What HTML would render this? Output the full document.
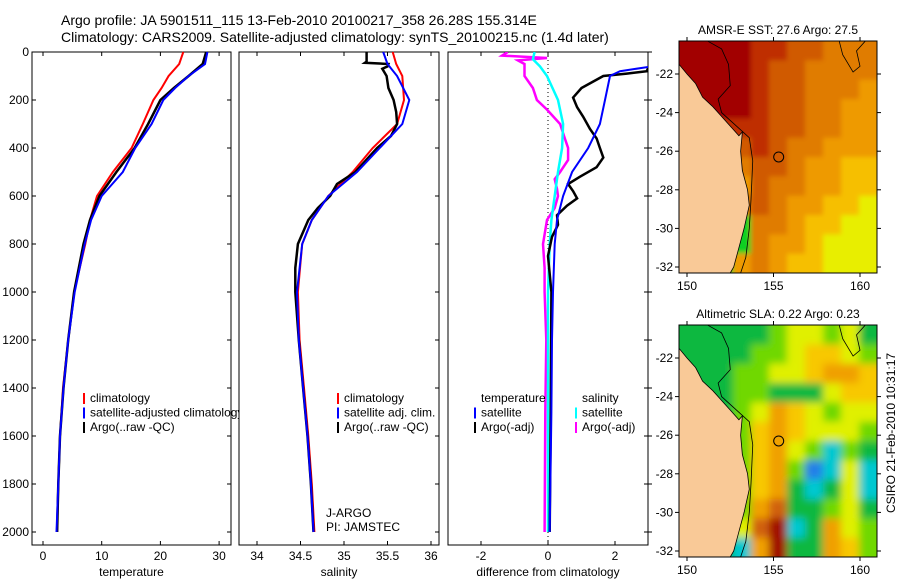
<!DOCTYPE html>
<html><head><meta charset="utf-8"><style>
body{margin:0;background:#fff;}
svg{display:block;font-family:"Liberation Sans",sans-serif;}
</style></head><body>
<svg id="fig" width="900" height="580" viewBox="0 0 900 580">
<defs>
<filter id="blurA" x="-10%" y="-10%" width="120%" height="120%"><feGaussianBlur stdDeviation="2.5"/></filter>
<filter id="blurB" x="-10%" y="-10%" width="120%" height="120%"><feGaussianBlur stdDeviation="4"/></filter>
<clipPath id="cpm1"><rect x="679" y="41" width="198" height="232"/></clipPath>
<clipPath id="cpm2"><rect x="679" y="325" width="198" height="232"/></clipPath>
<clipPath id="cp3"><rect x="448" y="52" width="200" height="493"/></clipPath>
</defs>
<text x="61" y="25" font-size="14">Argo profile: JA 5901511_115 13-Feb-2010 20100217_358 26.28S 155.314E</text>
<text x="61" y="42" font-size="14">Climatology: CARS2009. Satellite-adjusted climatology: synTS_20100215.nc (1.4d later)</text>
<g id="g1"></g>
<g id="g2"></g>
<g id="g3"></g>
<g id="m1"></g>
<g id="m2"></g>
<text x="32" y="0" font-size="12" transform="translate(895,465) rotate(-90)" text-anchor="middle">CSIRO 21-Feb-2010 10:31:17</text>
</svg>
<script>
// ---- data ----
const tDepth=[0,50,100,150,200,300,400,500,600,700,800,1000,1200,1400,1600,1800,2000];
const tClim=[23.9,23.2,21.4,20.2,18.8,17.0,15.1,11.9,9.2,8.0,7.2,5.3,4.3,3.4,2.9,2.6,2.4];
const tSat=[28.0,27.6,24.8,22.5,20.5,18.5,15.7,13.6,10.0,8.2,7.1,5.4,4.3,3.5,2.9,2.6,2.3];
const tArgo=[27.8,27.2,24.8,22.3,20.0,17.9,15.6,12.5,9.6,8.0,6.9,5.3,4.3,3.5,2.9,2.6,2.4];
const sDepth=[0,50,100,200,300,400,500,600,700,800,1000,1200,1400,1600,1800,2000];
const sClim=[35.56,35.6,35.67,35.69,35.61,35.33,35.10,34.82,34.63,34.52,34.47,34.49,34.54,34.59,34.63,34.66];
const sSat=[35.45,35.5,35.61,35.75,35.67,35.41,35.15,34.82,34.63,34.52,34.46,34.48,34.53,34.58,34.62,34.65];
const sArgoDepth=[0,40,45,50,60,70,100,150,200,250,300,350,400,500,550,600,650,700,800,900,1000,1200,1400,1600,1800,2000];
const sArgo=[35.26,35.26,35.24,35.51,35.5,35.44,35.49,35.51,35.57,35.6,35.61,35.54,35.38,35.13,34.92,34.84,34.7,34.59,34.47,34.44,34.44,34.48,34.53,34.58,34.62,34.65];
const dTSatDepth=[62,80,100,200,300,400,500,600,700,800,1000,1200,1500,2000];
const dTSat=[3.0,2.15,1.85,1.7,1.55,1.2,0.72,0.45,0.27,0.2,0.15,0.12,0.1,0.05];
const dTArgoDepth=[62,80,90,100,150,190,230,270,320,360,400,440,480,520,550,580,610,640,680,720,770,850,1000,1500,2000];
const dTArgo=[3.0,2.95,2.35,1.65,1.0,0.75,0.87,1.05,1.25,1.45,1.55,1.65,1.45,0.95,0.6,0.75,0.87,0.57,0.27,0.3,0.12,0.0,0.1,0.08,0.05];
const dSArgoDepth=[0,15,25,35,50,100,150,200,240,300,360,400,450,500,530,570,600,650,700,800,900,1000,1200,1500,2000];
const dSArgo=[-1.2,-1.37,-0.03,-0.9,-0.7,-0.7,-0.45,-0.33,-0.03,0.36,0.5,0.6,0.6,0.36,0.2,0.27,0.3,0.2,-0.03,-0.15,-0.1,-0.1,-0.05,-0.08,-0.1];
const dSSatDepth=[0,30,60,100,200,300,400,500,600,700,800,1000,1500,2000];
const dSSat=[-0.4,-0.45,-0.24,-0.03,0.3,0.45,0.42,0.3,0.2,0.1,0.05,0.0,0.0,0.0];
const depthTicks=[0,200,400,600,800,1000,1200,1400,1600,1800,2000];
const tTicks=[0,10,20,30];
const sTicks=[34,34.5,35,35.5,36];
const dTicks=[-2,0,2];
const sstGrid=[
[0,0,0,0,1,1,2,2,3,3,3],[0,0,0,0,1,2,2,3,3,3,3],[0,0,0,0,1,2,2,3,3,3,4],[0,0,0,0,1,2,2,3,3,4,4],
[1,1,1,1,1,2,2,3,3,4,4],[2,2,2,2,1,2,3,3,4,4,4],[3,3,3,3,2,2,3,4,4,5,5],[4,4,4,4,2,3,3,4,4,5,5],
[3,3,3,3,2,3,4,4,5,5,6],[7,7,7,7,3,3,4,5,5,6,6],[7,7,7,7,3,4,4,5,6,6,6],[7,7,7,4,3,4,5,5,6,6,6]];
const slaGrid=[
[2,2,2,2,2,3,4,4,3,4,2],[2,2,2,2,3,3,4,5,5,4,3],[2,2,2,3,3,4,4,5,6,6,5],[2,2,2,3,3,2,2,2,4,5,5],
[2,2,2,3,4,6,5,4,3,4,4],[2,2,2,3,5,6,5,4,4,4,3],[2,2,2,3,5,6,4,3,1,3,2],[2,2,2,3,5,6,3,0,1,4,1],
[2,2,2,3,5,6,2,1,2,4,1],[2,2,2,3,6,7,2,2,3,4,2],[2,2,2,4,7,8,1,2,6,4,3],[2,2,2,1,6,8,2,2,6,5,3]];
const lonTicks=[150,155,160];
const latTicks=[-22,-24,-26,-28,-30,-32];
// ---- helpers ----
const NS="http://www.w3.org/2000/svg";
function mk(p,t,a){const e=document.createElementNS(NS,t);for(const k in a)e.setAttribute(k,a[k]);p.appendChild(e);return e;}
const Y0=52,Y1=545;
const yD=d=>52+d*0.24;
function panel(g,x0,x1,xs,ticks,lab,showY,rightTicks){
  mk(g,'rect',{x:x0,y:Y0,width:x1-x0,height:Y1-Y0,fill:'#fff',stroke:'#000','stroke-width':1});
  ticks.forEach(v=>{const x=xs(v);
    mk(g,'line',{x1:x,x2:x,y1:Y0,y2:Y0+4,stroke:'#000'});
    mk(g,'line',{x1:x,x2:x,y1:Y1,y2:Y1-4,stroke:'#000'});
    const t=mk(g,'text',{x:x,y:Y1+15,'font-size':12,'text-anchor':'middle'});t.textContent=v;
    
    });
  depthTicks.forEach(d=>{const y=yD(d);
    if(showY){mk(g,'line',{x1:x0,x2:x0+4,y1:y,y2:y,stroke:'#000'});
      const t=mk(g,'text',{x:x0-3,y:y+4,'font-size':12,'text-anchor':'end'});t.textContent=d;
      
      }
    mk(g,'line',{x1:x1,x2:x1-4,y1:y,y2:y,stroke:'#000'});
    if(rightTicks)mk(g,'line',{x1:x1,x2:x1+4,y1:y,y2:y,stroke:'#000'});
  });
  const t=mk(g,'text',{x:(x0+x1)/2,y:576,'font-size':12,'text-anchor':'middle'});t.textContent=lab;
  
  
}
function line(g,xs,dep,val,col,w,name,clip){
  const p=dep.map((d,i)=>xs(val[i]).toFixed(1)+','+yD(d).toFixed(1)).join(' ');
  const e=mk(g,'polyline',{points:p,fill:'none',stroke:col,'stroke-width':w});
  if(clip)e.setAttribute('clip-path',clip);
  
  
}
function legend(g,x,y,items){
  items.forEach((it,i)=>{const yy=y+i*14.5;
    if(it[1])mk(g,'rect',{x:x,y:yy-9,width:2,height:11,fill:it[1]});
    const t=mk(g,'text',{x:x+7,y:yy,'font-size':12});t.textContent=it[0];
    
    });
}
// temperature
const g1=document.getElementById('g1');const xT=v=>43+v*5.87;
panel(g1,32,231,xT,tTicks,'temperature',true,false);
line(g1,xT,tDepth,tClim,'#f00',2,'climatology-temp-line');
line(g1,xT,tDepth,tArgo,'#000',2.5,'argo-temp-line');
line(g1,xT,tDepth,tSat,'#00f',2,'satellite-temp-line');
legend(g1,83,402,[['climatology','#f00'],['satellite-adjusted climatology','#00f'],['Argo(..raw -QC)','#000']]);
// salinity
const g2=document.getElementById('g2');const xS=v=>257+(v-34)*87;
panel(g2,239,439,xS,sTicks,'salinity',false,false);
line(g2,xS,sDepth,sClim,'#f00',2,'climatology-sal-line');
line(g2,xS,sArgoDepth,sArgo,'#000',2.5,'argo-sal-line');
line(g2,xS,sDepth,sSat,'#00f',2,'satellite-sal-line');
legend(g2,337,402,[['climatology','#f00'],['satellite adj. clim.','#00f'],['Argo(..raw -QC)','#000']]);
{const t=mk(g2,'text',{x:326,y:517,'font-size':12});t.textContent='J-ARGO';


const t2=mk(g2,'text',{x:326,y:531,'font-size':12});t2.textContent='PI: JAMSTEC';

}
// difference
const g3=document.getElementById('g3');const xDf=v=>548+v*33.5;
panel(g3,448,648,xDf,dTicks,'difference from climatology',false,true);
mk(g3,'line',{x1:548,x2:548,y1:Y0,y2:Y1,stroke:'#000','stroke-dasharray':'1,3'});
line(g3,xDf,dSArgoDepth,dSArgo,'#f0f',2.5,'argo-sal-diff-line','url(#cp3)');
line(g3,xDf,dSSatDepth,dSSat,'#0ff',2.5,'satellite-sal-diff-line','url(#cp3)');
line(g3,xDf,dTArgoDepth,dTArgo,'#000',2.5,'argo-temp-diff-line','url(#cp3)');
line(g3,xDf,dTSatDepth,dTSat,'#00f',2,'satellite-temp-diff-line','url(#cp3)');
legend(g3,474,402,[['temperature',null],['satellite','#00f'],['Argo(-adj)','#000']]);
legend(g3,575,402,[['salinity',null],['satellite','#0ff'],['Argo(-adj)','#f0f']]);
// maps
const sstCols=['#a20000','#bf2e00','#d05a00','#e07c00','#ee9a00','#f6bf00','#e8ee00','#10d020'];
const slaCols=['#2080e8','#00c8d0','#10b840','#70d800','#e0f000','#f8c800','#f0a000','#d06010','#a01000'];
const land=[[149.54,-21.5],[150.0,-22.0],[150.5,-22.5],[150.9,-23.2],[151.5,-23.7],[152.0,-24.2],[152.6,-24.8],[153.0,-25.2],[153.2,-25.0],[153.1,-26.0],[153.2,-27.0],[153.5,-28.0],[153.6,-28.8],[153.3,-30.0],[153.0,-31.0],[152.7,-32.0],[152.5,-32.31],[149.54,-32.31]];
const contour=[[151.2,-20.3],[152.0,-20.7],[152.4,-21.5],[152.5,-22.6],[151.8,-23.3],[152.0,-24.0],[153.6,-25.3],[153.8,-26.5],[153.7,-28.5],[153.6,-30],[153.4,-31.5],[153.1,-32.31]];
const contour2=[[158.8,-20.3],[159.0,-21.0],[159.6,-21.9],[160.0,-21.6],[159.8,-20.8],[160.3,-20.3]];
function map(g,top,grid,cols,title,clipId,blurId){
  const L=679,R=877,T=top,B=top+232;
  const xl=lo=>687+(lo-150)*17.3, yl=la=>T+33+(-22-la)*19.3;
  const ti=mk(g,'text',{x:778,y:T-7,'font-size':12,'text-anchor':'middle'});ti.textContent=title;
  
  
  const nr=grid.length,nc=grid[0].length,cw=(R-L)/nc,ch=(B-T)/nr;
  const cg=mk(g,'g',{'clip-path':'url(#'+clipId+')'});
  const bg=mk(cg,'g',{filter:'url(#'+blurId+')'});
  for(let r=-1;r<=nr;r++)for(let c=-1;c<=nc;c++){
    const v=grid[Math.min(nr-1,Math.max(0,r))][Math.min(nc-1,Math.max(0,c))];
    const e=mk(bg,'rect',{x:L+c*cw,y:T+r*ch,width:cw+0.5,height:ch+0.5,fill:cols[v]});
    
    }
  const lp=mk(cg,'polygon',{points:land.map(p=>xl(p[0])+','+yl(p[1])).join(' '),fill:'#f9c997',stroke:'#000','stroke-width':0.8});
  
  
  [contour,contour2].forEach(cn=>mk(cg,'polyline',{points:cn.map(p=>xl(p[0])+','+yl(p[1])).join(' '),fill:'none',stroke:'#000','stroke-width':0.8}));
  mk(g,'circle',{cx:xl(155.3),cy:yl(-26.3),r:5,fill:'none',stroke:'#000'});
  mk(g,'rect',{x:L,y:T,width:R-L,height:B-T,fill:'none',stroke:'#000'});
  lonTicks.forEach(v=>{const x=xl(v);mk(g,'line',{x1:x,x2:x,y1:T,y2:T-4,stroke:'#000'});mk(g,'line',{x1:x,x2:x,y1:B,y2:B+4,stroke:'#000'});
    const t=mk(g,'text',{x:x,y:B+17,'font-size':12,'text-anchor':'middle'});t.textContent=v;
    
    });
  latTicks.forEach(v=>{const y=yl(v);mk(g,'line',{x1:L,x2:L-4,y1:y,y2:y,stroke:'#000'});mk(g,'line',{x1:R,x2:R+4,y1:y,y2:y,stroke:'#000'});
    const t=mk(g,'text',{x:L-6,y:y+4,'font-size':12,'text-anchor':'end'});t.textContent=v;
    
    });
}
map(document.getElementById('m1'),41,sstGrid,sstCols,'AMSR-E SST: 27.6 Argo: 27.5','cpm1','blurA');
map(document.getElementById('m2'),325,slaGrid,slaCols,'Altimetric SLA: 0.22 Argo: 0.23','cpm2','blurB');
</script>
</body></html>
